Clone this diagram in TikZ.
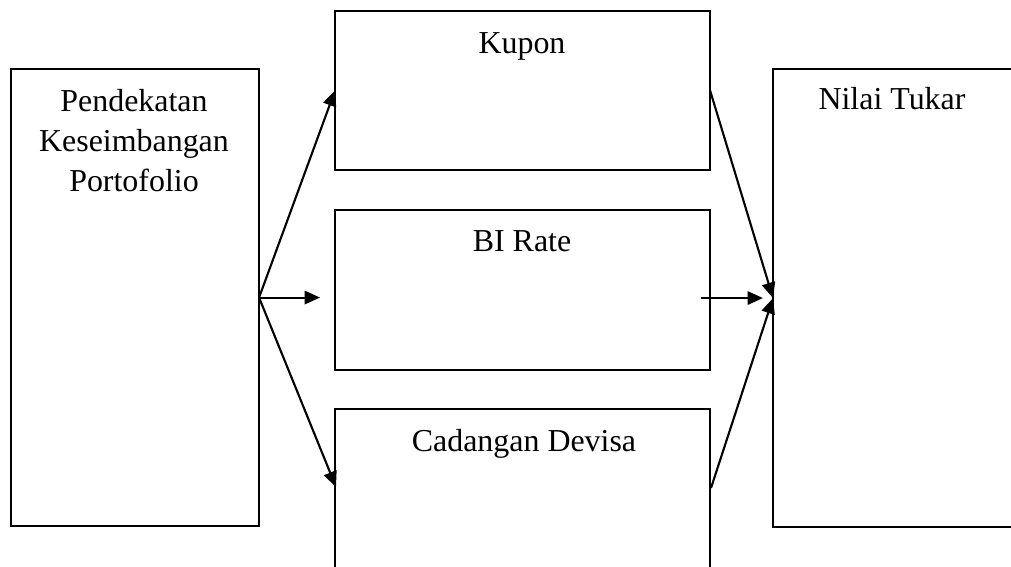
\documentclass[tikz,border=0pt]{standalone}
\usepackage{fontspec}
\setmainfont{Liberation Serif}
\usetikzlibrary{arrows.meta, positioning, calc}

\tikzset{
  box/.style={draw, line width=1.6pt, inner sep=0pt, outer sep=0pt, anchor=north west},
  lbl/.style={font=\fontsize{22.7}{28.5}\selectfont, inner sep=0pt, align=center},
  link/.style={->, line width=1.5pt}
}

\begin{document}
\begin{tikzpicture}[x=0.025cm, y=-0.025cm, >={Triangle[length=11pt, width=9.5pt]}]
\useasboundingbox (0,0) rectangle (1011,566);

% --- Boxes ---
\node[box, minimum width=6.2cm, minimum height=11.425cm] (pks) at (11,69) {};
\node[box, minimum width=9.375cm, minimum height=3.975cm] (kupon) at (335,11) {};
\node[box, minimum width=9.375cm, minimum height=4cm] (bi) at (335,210) {};
\node[box, minimum width=9.375cm, minimum height=4.8cm] (devisa) at (335,409) {};
\node[box, minimum width=6.1cm, minimum height=11.45cm] (kurs) at (773,69) {};

% --- Labels ---
\node[lbl, anchor=north] (pks-t) at (134,89) {Pendekatan\\Keseimbangan\\Portofolio};
\node[lbl, anchor=base] (kupon-t) at (522,53) {Kupon};
\node[lbl, anchor=base] (bi-t) at (522,251) {BI Rate};
\node[lbl, anchor=base] (devisa-t) at (524,451) {Cadangan Devisa};
\node[lbl, anchor=base] (kurs-t) at (892,109) {Nilai Tukar};

% --- Free arrow ends ---
\coordinate (bi-in) at ($(pks.east)+(61,0)$);
\coordinate (devisa-in) at (336,487);
\coordinate (bi-out) at ($(kurs.west)+(-72,0)$);
\coordinate (kurs-in) at ($(kurs.west)+(-10,0)$);
\coordinate (devisa-out) at (711,488);

% --- Arrows ---
\draw[link] (pks.east) -- (kupon.west);
\draw[link] (pks.east) -- (bi-in);
\draw[link] (pks.east) -- (devisa-in);
\draw[link] (kupon.east) -- (kurs.west);
\draw[link] (bi-out) -- (kurs-in);
\draw[link] (devisa-out) -- (kurs.west);

\end{tikzpicture}
\end{document}
